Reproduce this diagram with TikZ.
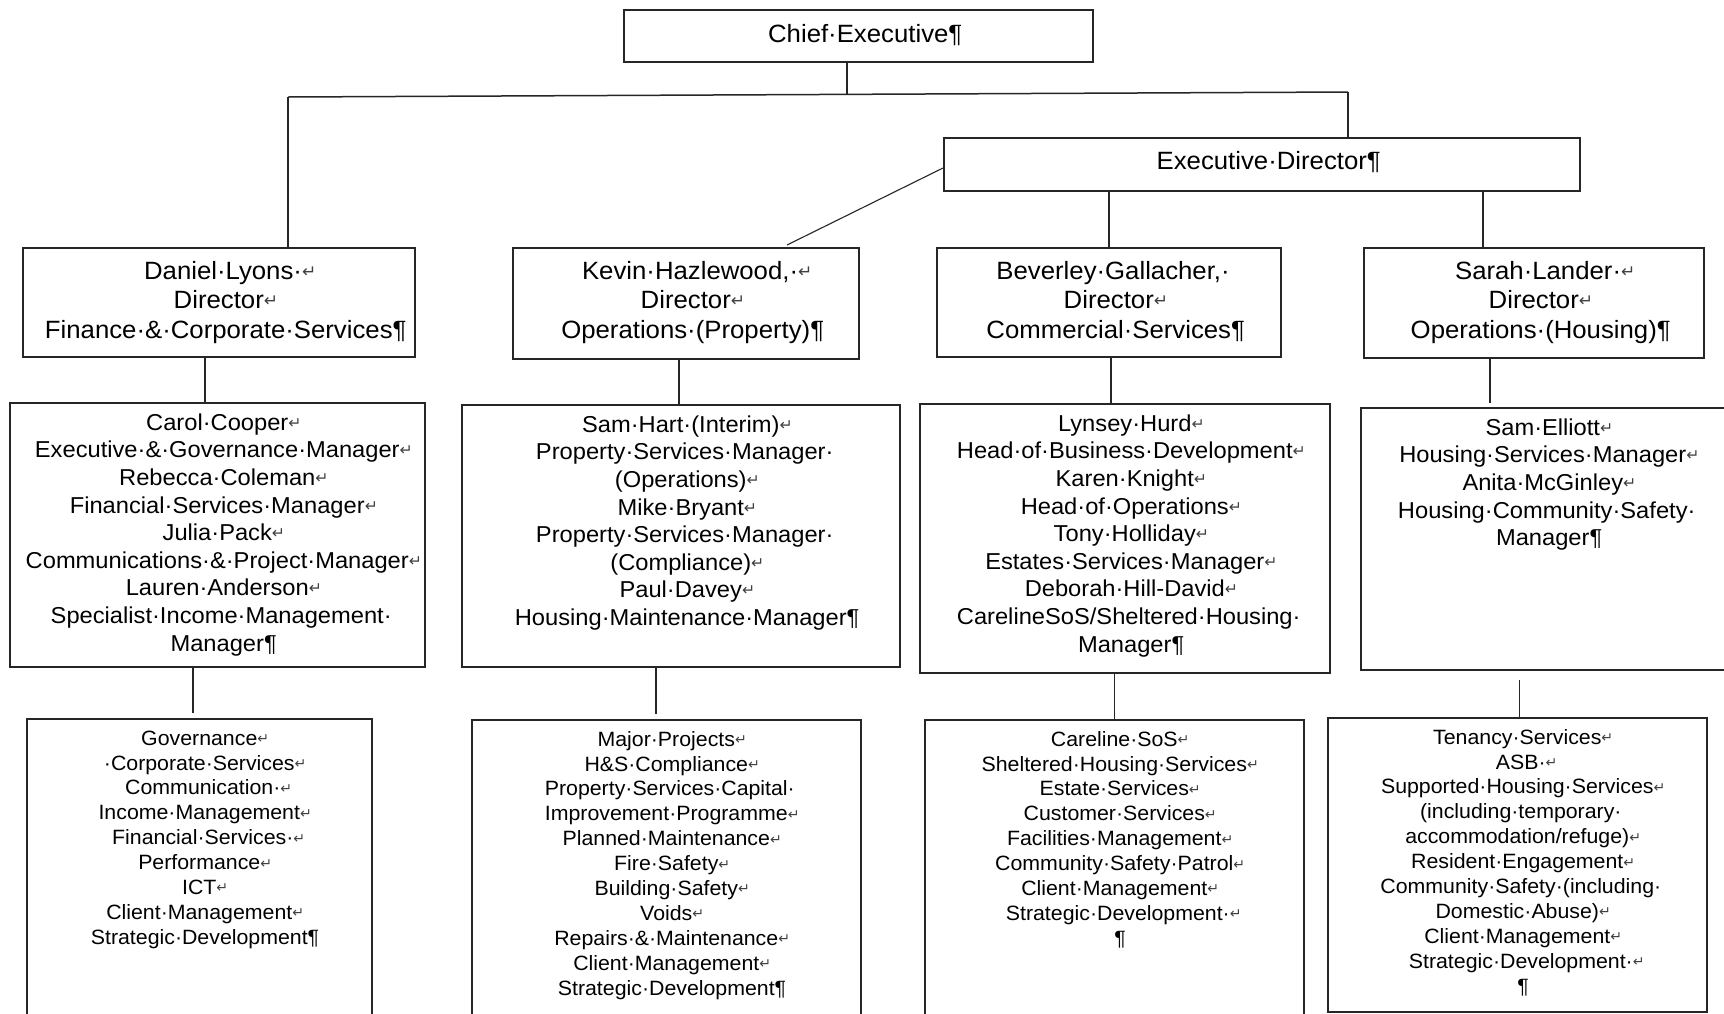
\documentclass[tikz,border=0pt]{standalone}
\usepackage{fontspec}
\setmainfont{Liberation Sans}[FakeStretch=1.03]
\newfontfamily\symf{DejaVu Sans}
\usepackage{graphicx}
\usepackage{xcolor}
\usetikzlibrary{calc}
\newcommand\Rg{\raisebox{0.08em}{\scalebox{0.68}{\color{black!75}\symf ↵}}}
\newcommand\BR{\rlap{\Rg}}
\newcommand\PM{\rlap{¶}}
\newcommand\TS{\rlap{·}}
\newcommand\TSB{\rlap{·\Rg}}
\newcommand\FL{\rule{0pt}{0.8em}}
\begin{document}
\begin{tikzpicture}[x=1pt,y=-1pt,
  box/.style={draw=black!85, line width=1.6pt, inner sep=0pt, anchor=north west},
  conn/.style={draw=black!85, line width=1.1pt},
  t1/.style={inner sep=0pt, align=center, anchor=north, font=\fontsize{25}{29.5}\selectfont},
  t2/.style={inner sep=0pt, align=center, anchor=north, font=\fontsize{23}{27.6}\selectfont},
  t3/.style={inner sep=0pt, align=center, anchor=north, font=\fontsize{20.7}{24.9}\selectfont}]
\useasboundingbox (0,0) rectangle (1724,1013);
\clip (0,0) rectangle (1724,1013);
\fill[white] (0,0) rectangle (1724,1013);

% boxes
\node[box, minimum width=469, minimum height=52] (ce) at (623,9) {};
\node[box, minimum width=636, minimum height=53] (ed) at (943,137) {};
\node[box, minimum width=392, minimum height=109] (d1) at (22,247) {};
\node[box, minimum width=346, minimum height=111] (d2) at (512,247) {};
\node[box, minimum width=344, minimum height=109] (d3) at (936,247) {};
\node[box, minimum width=340, minimum height=110] (d4) at (1363,247) {};
\node[box, minimum width=415, minimum height=264] (c1) at (9,402) {};
\node[box, minimum width=438, minimum height=262] (c2) at (461,404) {};
\node[box, minimum width=410, minimum height=269] (c3) at (919,403) {};
\node[box, minimum width=370, minimum height=262] (c4) at (1360,407) {};
\node[box, minimum width=345, minimum height=312] (e1) at (26,718) {};
\node[box, minimum width=389, minimum height=311] (e2) at (471,719) {};
\node[box, minimum width=379, minimum height=311] (e3) at (924,719) {};
\node[box, minimum width=379, minimum height=294] (e4) at (1327,717) {};

% texts
\node[t1, anchor=base] (cet) at ($(ce.north)+(0,33)$) {Chief·Executive\PM};
\node[t1, anchor=base] (edt) at ($(ed.north)+(0,32)$) {Executive·Director\PM};

\node[t1] (d1t) at ($(d1.north)+(0,12)$) {\FL Daniel·Lyons\TSB\\Director\BR\\Finance·\&·Corporate·Services\PM};
\node[t1] (d2t) at ($(d2.north)+(0,12)$) {\FL Kevin·Hazlewood,\TSB\\Director\BR\\Operations·(Property)\PM};
\node[t1] (d3t) at ($(d3.north)+(0,12)$) {\FL Beverley·Gallacher,\TS\\Director\BR\\Commercial·Services\PM};
\node[t1] (d4t) at ($(d4.north)+(0,12)$) {\FL Sarah·Lander\TSB\\Director\BR\\Operations·(Housing)\PM};

\node[t2] (c1t) at ($(c1.north)+(0,9.6)$) {\FL Carol·Cooper\BR\\Executive·\&·Governance·Manager\BR\\Rebecca·Coleman\BR\\Financial·Services·Manager\BR\\Julia·Pack\BR\\Communications·\&·Project·Manager\BR\\Lauren·Anderson\BR\\Specialist·Income·Management\TS\\Manager\PM};
\node[t2] (c2t) at ($(c2.north)+(0,9.6)$) {\FL Sam·Hart·(Interim)\BR\\Property·Services·Manager\TS\\(Operations)\BR\\Mike·Bryant\BR\\Property·Services·Manager\TS\\(Compliance)\BR\\Paul·Davey\BR\\Housing·Maintenance·Manager\PM};
\node[t2] (c3t) at ($(c3.north)+(0,9.6)$) {\FL Lynsey·Hurd\BR\\Head·of·Business·Development\BR\\Karen·Knight\BR\\Head·of·Operations\BR\\Tony·Holliday\BR\\Estates·Services·Manager\BR\\Deborah·Hill-David\BR\\CarelineSoS/Sheltered·Housing\TS\\Manager\PM};
\node[t2] (c4t) at ($(c4.north)+(-3,9.6)$) {\FL Sam·Elliott\BR\\Housing·Services·Manager\BR\\Anita·McGinley\BR\\Housing·Community·Safety\TS\\Manager\PM};

\node[t3] (e1t) at ($(e1.north)+(0,10.4)$) {\FL Governance\BR\\·Corporate·Services\BR\\Communication\TSB\\Income·Management\BR\\Financial·Services\TSB\\Performance\BR\\ICT\BR\\Client·Management\BR\\Strategic·Development\PM};
\node[t3] (e2t) at ($(e2.north)+(0,10.4)$) {\FL Major·Projects\BR\\H\&S·Compliance\BR\\Property·Services·Capital\TS\\Improvement·Programme\BR\\Planned·Maintenance\BR\\Fire·Safety\BR\\Building·Safety\BR\\Voids\BR\\Repairs·\&·Maintenance\BR\\Client·Management\BR\\Strategic·Development\PM};
\node[t3] (e3t) at ($(e3.north)+(0,10.4)$) {\FL Careline·SoS\BR\\Sheltered·Housing·Services\BR\\Estate·Services\BR\\Customer·Services\BR\\Facilities·Management\BR\\Community·Safety·Patrol\BR\\Client·Management\BR\\Strategic·Development\TSB\\\PM};
\node[t3] (e4t) at ($(e4.north)+(0,10.4)$) {\FL Tenancy·Services\BR\\ASB\TSB\\Supported·Housing·Services\BR\\(including·temporary\TS\\accommodation/refuge)\BR\\Resident·Engagement\BR\\Community·Safety·(including\TS\\Domestic·Abuse)\BR\\Client·Management\BR\\Strategic·Development\TSB\\\PM};

% connectors
\coordinate (jl) at (288,97);
\coordinate (jr) at (1348,92);
\coordinate (jc) at (847,94.4);
\draw[conn] (ce.south -| jc) -- (jc);
\draw[conn, line width=1.5pt] (jl) -- (jr);
\draw[conn] (jl) -- (jl |- d1.north);
\draw[conn] (jr) -- (jr |- ed.north);
\coordinate (ek) at (943,168);
\coordinate (kk) at (787,245);
\draw[conn] (ed.west |- ek) -- (kk);
\coordinate (x3) at (1109,0);
\coordinate (x4) at (1483,0);
\draw[conn] (ed.south -| x3) -- (d3.north -| x3);
\draw[conn] (ed.south -| x4) -- (d4.north -| x4);
\coordinate (a1) at (205,0);
\coordinate (a2) at (679,0);
\coordinate (a3) at (1111,0);
\coordinate (a4) at (1490,0);
\draw[conn] (d1.south -| a1) -- (c1.north -| a1);
\draw[conn] (d2.south -| a2) -- (c2.north -| a2);
\draw[conn] (d3.south -| a3) -- (c3.north -| a3);
\draw[conn, shorten >=4pt] (d4.south -| a4) -- (c4.north -| a4);
\coordinate (b1) at (193,0);
\coordinate (b2) at (656,0);
\coordinate (b3) at (1114.5,0);
\coordinate (b4) at (1519.5,0);
\draw[conn, shorten >=5pt] (c1.south -| b1) -- (e1.north -| b1);
\draw[conn, shorten >=5pt] (c2.south -| b2) -- (e2.north -| b2);
\draw[conn] (c3.south -| b3) -- (e3.north -| b3);
\draw[conn, shorten <=9pt] (c4.south -| b4) -- (e4.north -| b4);
\end{tikzpicture}
\end{document}
